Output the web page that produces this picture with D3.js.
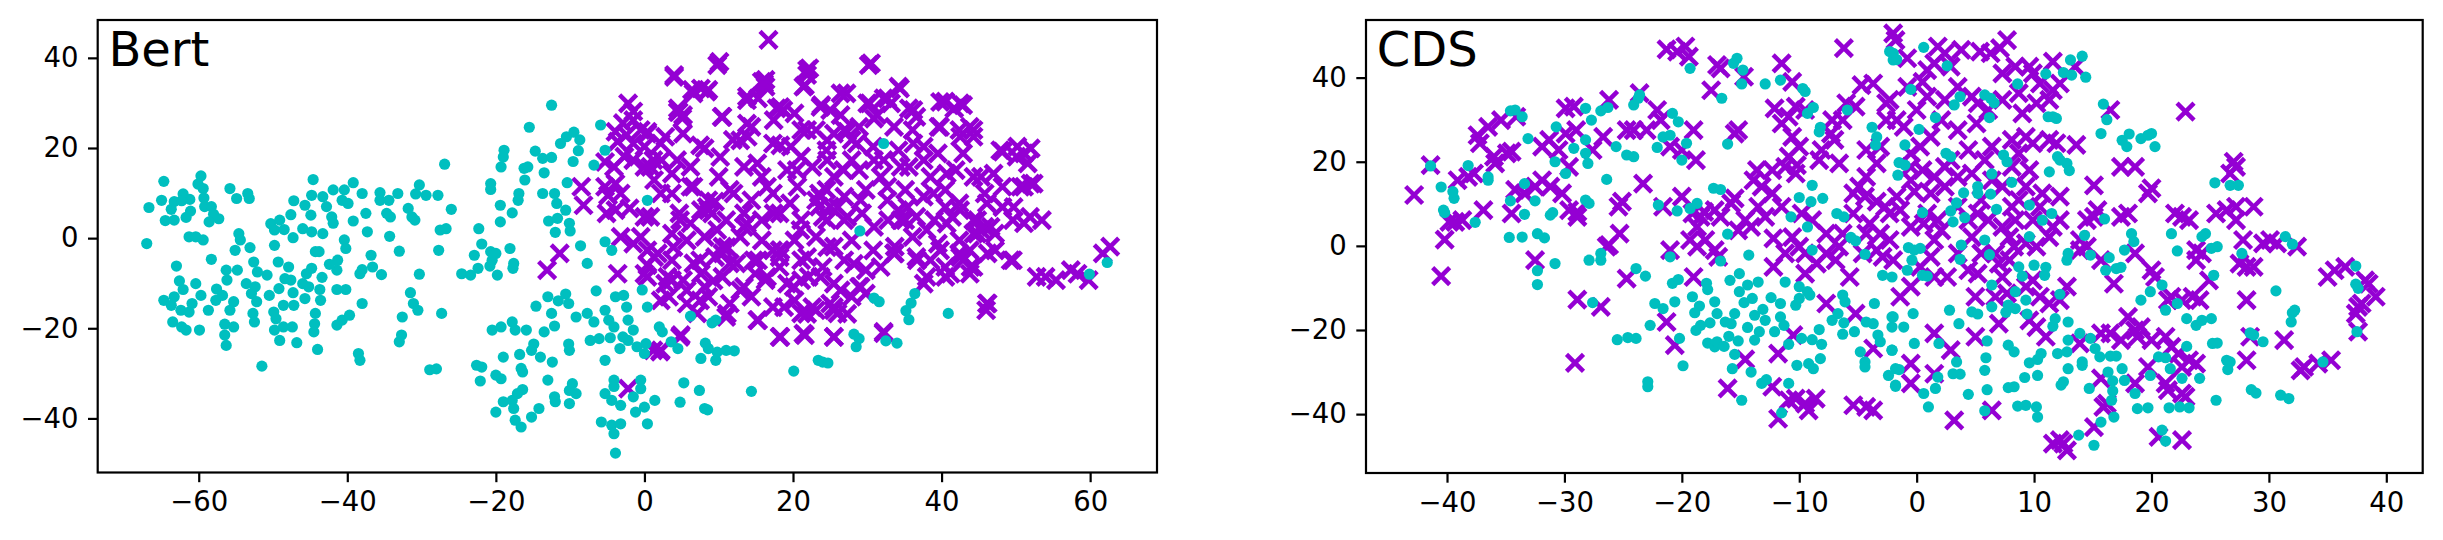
<!DOCTYPE html>
<html>
<head>
<meta charset="utf-8">
<script src="https://cdn.jsdelivr.net/npm/d3@7"></script>
<style>
  body { margin: 0; background: #fff; }
  svg text { font-family: "DejaVu Sans", sans-serif; fill: #000; }
</style>
</head>
<body>
<div id="chart"></div>
<script>
// panel titles and axis ticks
const panelNames = ['Bert', 'CDS']
const bertXTicks = [-60, -40, -20, 0, 20, 40, 60]
const bertYTicks = [-40, -20, 0, 20, 40]
const cdsXTicks = [-40, -30, -20, -10, 0, 10, 20, 30, 40]
const cdsYTicks = [-40, -20, 0, 20, 40]
const bertXLim = [-73.6, 69.0]
const bertYLim = [-52.0, 48.4]
const cdsXLim = [-46.9, 43.1]
const cdsYLim = [-54.0, 53.7]

// Bert embedding, class 1 (cyan dots)
const bertCyan = [
  [-66.7,6.8],[-67.0,-1.2],[-64.7,12.6],[-65.0,8.4],[-64.5,3.9],[-63.3,4.0],[-63.7,6.4],[-63.3,8.1],[-62.1,9.8],[-61.2,8.6],
  [-62.3,8.3],[-61.1,6.0],[-61.7,4.6],[-59.7,13.8],[-60.1,12.0],[-59.4,11.0],[-59.2,7.0],[-59.3,8.9],[-58.3,7.0],[-58.0,5.3],
  [-57.3,4.3],[-58.6,3.6],[-61.3,0.3],[-60.4,0.3],[-59.4,-0.4],[-58.3,-4.7],[-63.0,-6.2],[-62.6,-9.5],[-62.1,-11.4],[-60.4,-10.1],
  [-64.7,-13.8],[-63.7,-14.9],[-63.3,-13.0],[-62.4,-16.0],[-61.3,-16.4],[-60.9,-14.5],[-63.5,-18.6],[-62.3,-19.7],[-61.7,-20.4],[-59.9,-20.4],
  [-59.7,-12.7],[-58.7,-16.0],[-57.7,-13.8],[-57.6,-11.3],[-56.8,-12.7],[-56.2,-9.3],[-56.3,-7.1],[-55.3,-14.1],[-55.8,-16.0],[-54.8,-7.1],
  [-54.6,1.0],[-54.4,-0.4],[-55.1,-2.7],[-53.1,-2.1],[-55.8,11.0],[-54.9,8.8],[-53.4,9.9],[-53.2,8.8],[-56.5,-19.1],[-55.3,-19.7],
  [-56.5,-21.5],[-56.3,-23.8],
  [-53.6,-10.1],[-52.9,-12.3],[-52.4,-10.8],[-52.2,-14.1],[-52.7,-16.7],[-52.5,-18.6],[-52.6,-5.3],[-52.1,-7.5],[-50.8,-8.2],[-50.5,-12.7],
  [-49.9,-16.4],[-49.6,-17.9],[-49.8,-20.4],[-49.1,-22.7],[-48.6,-19.7],[-47.4,-19.7],[-46.8,-23.2],[-48.6,-14.9],[-47.2,-14.9],[-47.3,-12.1],
  [-49.2,-11.2],[-48.4,-9.0],[-47.6,-9.3],[-47.9,-6.4],[-49.3,-5.3],[-49.8,-1.6],[-50.3,3.2],[-49.1,4.0],[-49.8,1.8],[-48.5,1.9],
  [-47.3,0.1],[-47.6,5.2],[-47.2,8.3],[-45.7,7.3],[-46.0,2.1],[-44.8,1.4],[-44.9,5.1],[-44.6,13.0],[-44.8,9.5],[-43.3,1.0],
  [-44.3,-3.0],[-43.8,-3.0],[-45.5,-7.9],[-44.8,-6.7],[-46.0,-10.1],[-45.2,-10.8],[-45.7,-13.4],[-43.4,-8.7],[-43.7,-11.4],[-43.6,-13.8],
  [-44.3,-16.7],[-44.4,-19.0],[-44.5,-20.8],[-44.0,-24.7],[-51.5,-28.4],[-41.4,-19.3],[-40.7,-18.2],[-39.7,-17.1],[-38.0,-14.5],[-40.2,-11.4],
  [-41.4,-11.4],[-41.4,-7.1],[-42.4,-5.8],[-41.3,-4.9],[-40.4,-0.4],[-40.2,-2.3],[-42.1,4.7],[-41.9,3.3],[-42.8,7.0],[-43.3,9.2],
  [-41.9,10.7],[-40.4,10.7],[-40.7,8.4],[-39.9,7.7],[-39.2,12.3],[-38.0,9.9],[-39.2,3.8],[-37.5,5.5],[-37.3,1.4],[-35.6,10.1],
  [-35.6,8.4],[-34.4,8.4],[-34.2,4.7],[-34.7,5.5],[-34.3,0.4],[-33.0,-2.9],[-36.8,-3.8],[-36.6,-6.4],[-38.3,-7.9],[-35.4,-8.1],
  [-38.0,-7.0],[-33.2,9.9],[-31.8,6.6],[-31.3,4.7],[-30.9,4.0],[-30.3,11.8],[-30.8,9.8],[-29.4,9.5],[-27.8,9.5],[-26.0,6.4],
  [-26.9,16.4],[-27.5,1.8],[-26.7,2.1],[-27.7,-2.7],[-30.3,-8.0],[-31.5,-12.1],[-31.1,-14.5],[-30.5,-16.0],[-32.6,-17.5],[-32.7,-21.5],
  [-33.0,-23.0],[-27.3,-16.7],[-38.5,-25.6],[-38.3,-27.1],[-28.9,-29.2],[-28.0,-29.0],
  [-24.6,-7.9],[-23.4,-8.2],[-22.9,-3.8],[-22.4,-6.7],[-22.3,2.1],[-21.9,-1.3],[-20.7,-3.0],[-20.5,-4.9],[-20.0,-3.4],[-20.8,-6.2],
  [-19.8,-8.2],[-18.1,-2.3],[-17.6,-5.6],[-17.7,-6.7],[-20.7,12.1],[-20.7,10.8],[-19.4,7.3],[-19.4,3.6],[-17.8,5.6],[-19.0,18.0],
  [-19.3,15.8],[-18.9,19.5],[-16.9,9.9],[-17.0,8.4],[-16.1,12.9],[-16.2,15.5],[-15.7,15.8],[-15.5,24.6],[-14.7,19.3],[-13.7,17.7],
  [-13.5,14.5],[-12.5,17.9],[-12.5,29.5],[-13.7,9.9],[-12.1,9.9],[-11.8,7.7],[-12.9,3.8],[-11.7,4.4],[-12.0,1.3],[-10.6,6.2],
  [-10.1,3.3],[-10.0,1.6],[-10.4,12.3],[-11.3,21.0],[-10.5,22.5],[-9.5,23.5],[-8.7,21.8],[-8.9,19.4],[-9.6,17.0],[-5.9,25.1],
  [-5.3,19.5],[-6.8,16.2],[-5.3,-0.8],[-4.4,-2.7],[-8.6,-1.7],[-7.7,-5.6],[-6.5,-11.7],[-10.6,-12.4],[-10.2,-14.5],[-11.6,-13.9],
  [-13.0,-13.0],[-14.6,-15.1],[-12.5,-16.7],[-12.1,-19.5],[-13.5,-20.8],[-9.2,-17.5],[-7.7,-16.7],[-6.8,-18.6],[-5.3,-16.0],[-4.8,-18.2],
  [-4.1,-19.7],[-3.9,-13.0],[-2.8,-12.7],[-2.4,-15.3],[-2.2,-18.2],[-2.9,-21.9],[-1.5,-20.4],[-0.3,-11.5],[0.4,-15.3],[0.4,8.4],
  [-20.5,-20.4],[-19.3,-19.7],[-17.8,-18.6],[-17.4,-20.4],[-15.9,-20.4],[-14.9,-23.5],[-15.2,-24.9],[-14.0,-26.4],[-12.4,-27.5],[-10.2,-23.5],
  [-10.1,-24.9],[-7.3,-22.7],[-6.1,-22.3],[-4.6,-22.1],[-5.3,-27.1],[-3.3,-24.5],[-2.2,-22.7],[-1.0,-24.1],[0.0,-25.6],[0.2,-23.4],
  [-22.6,-28.2],[-21.9,-28.6],[-22.1,-31.7],[-20.0,-30.4],[-19.3,-31.2],[-19.0,-26.4],[-16.8,-25.8],[-16.6,-28.9],[-16.4,-29.7],[-16.4,-33.6],
  [-17.1,-34.5],[-13.0,-31.5],[-12.1,-35.2],[-12.0,-36.3],[-10.1,-33.8],[-9.2,-34.5],[-9.7,-32.3],[-10.1,-36.7],[-4.1,-31.5],[-4.1,-32.9],
  [-5.3,-34.5],[-4.4,-36.0],[-3.2,-37.1],[-1.5,-35.2],[-0.5,-31.5],[-0.5,-33.4],[0.0,-37.5],[-1.2,-38.6],[0.4,-41.2],[1.4,-36.0],
  [-19.0,-36.3],[-17.6,-37.8],[-17.8,-36.0],[-20.0,-38.6],[-15.2,-39.7],[-14.2,-37.8],[-17.4,-40.4],[-16.6,-41.9],[-5.8,-40.8],[-4.4,-41.5],
  [-3.2,-41.2],[-4.1,-43.4],[-3.9,-47.7],
  [32.2,21.0],[29.0,1.6],[6.2,-17.3],[9.1,-18.8],[9.6,-18.2],[3.6,-23.0],[4.5,-24.5],[7.6,-26.7],[8.2,-23.3],[8.6,-24.5],
  [9.6,-27.1],[9.8,-25.3],[11.0,-24.9],[12.1,-25.0],[5.3,-32.1],[7.4,-33.8],[4.8,-36.4],[8.1,-37.8],[8.5,-38.1],[14.4,-34.0],
  [20.1,-29.5],[23.4,-27.1],[24.0,-27.5],[24.7,-27.7],[28.2,-21.3],[28.9,-22.3],[28.5,-24.1],[30.9,-13.3],[31.6,-14.1],[32.5,-22.8],
  [34.0,-23.3],[36.4,-12.3],[35.9,-14.4],[35.2,-16.1],[35.6,-18.1],[40.9,-16.7],[59.9,-8.0],[62.3,-5.4],[2.0,-19.7],[2.4,-20.8]
]

// Bert embedding, class 2 (purple crosses)
const bertPurple = [
  [-2.2,29.9],[-1.5,28.1],[-2.9,25.5],[-1.5,26.2],[-3.9,23.6],[-2.4,22.9],[-0.5,24.0],[0.4,23.2],[-3.6,21.4],[-1.5,21.0],
  [0.0,20.3],[-5.3,16.9],[-4.1,15.8],[-2.7,18.1],[-1.5,17.3],[0.0,15.8],[1.2,17.3],[-8.5,11.4],[-8.2,7.3],[-5.3,11.4],
  [-3.9,12.1],[-3.2,9.9],[-4.9,9.5],[-3.9,6.2],[-5.1,5.5],[-2.0,6.6],[0.0,4.7],[-3.2,0.3],[-0.5,0.3],[-1.5,-1.2],
  [0.4,-2.7],[-11.4,-3.4],[-13.1,-7.1],[-3.6,-7.9],[0.0,-7.9],[0.4,-6.0],[-2.2,-33.4],[1.2,-24.9],
  [16.7,44.0],[10.1,39.1],[30.5,38.8],[4.0,36.2],[22.2,37.7],[21.9,36.2],[15.8,34.7],[16.3,33.6],[6.4,32.9],[8.6,32.9],
  [7.6,33.2],[21.6,33.9],[27.2,32.1],[34.4,33.2],[13.8,30.6],[15.3,31.0],[17.8,28.8],[18.7,28.4],[4.5,28.0],[5.2,27.3],
  [10.5,26.9],[23.8,29.5],[25.0,28.4],[30.3,29.9],[32.2,31.0],[33.2,29.9],[31.3,27.3],[35.6,28.8],[36.6,26.9],[40.5,30.3],
  [42.9,29.5],[41.7,28.8],[14.4,24.7],[13.9,22.5],[23.1,24.0],[25.5,23.2],[26.9,24.0],[28.9,24.7],[36.1,24.0],[39.6,24.7],
  [42.4,24.0],[43.8,24.7],[44.3,22.5],[2.8,22.5],[5.2,23.2],[8.1,19.9],[11.9,21.8],[17.3,21.0],[19.7,20.3],[21.1,18.1],
  [24.5,19.5],[27.9,21.8],[30.8,20.3],[34.2,19.5],[37.6,20.3],[39.5,18.8],[42.9,18.8],[48.2,19.2],[50.1,18.1],[52.0,19.9],
  [51.6,16.6],[2.3,17.3],[3.7,14.3],[6.2,15.8],[10.0,13.6],[13.4,15.8],[15.8,13.6],[19.2,15.1],[22.6,15.8],[25.5,13.6],
  [28.9,15.1],[31.8,13.6],[35.6,15.8],[38.5,13.6],[41.9,15.1],[45.3,13.6],[48.2,11.4],[51.1,11.4],[52.0,12.1],[3.7,9.9],
  [6.6,11.4],[8.6,8.4],[11.5,10.7],[14.4,8.4],[17.3,9.9],[20.6,11.4],[23.1,8.4],[24.5,10.7],[26.9,9.2],[29.8,10.7],
  [32.7,8.4],[35.1,10.7],[37.6,9.2],[40.5,10.7],[42.4,7.7],[45.8,9.9],[48.2,6.9],[49.6,4.0],[53.5,4.0],[51.1,3.3],
  [4.7,5.5],[7.6,6.2],[9.1,5.5],[11.0,4.0],[13.4,5.5],[15.8,4.0],[18.2,5.5],[21.1,4.0],[23.5,7.0],[24.0,4.7],
  [26.9,4.0],[29.3,5.5],[32.8,4.0],[34.2,6.2],[36.6,4.7],[39.0,4.0],[41.4,4.7],[44.3,4.0],[45.8,2.5],[47.2,1.0],
  [3.7,1.0],[5.7,-0.5],[8.1,0.3],[10.5,-1.9],[12.9,0.3],[15.8,-0.5],[18.2,-2.7],[20.2,-0.5],[23.1,0.3],[25.5,-1.9],
  [27.9,-0.5],[30.8,-2.7],[33.7,-1.9],[36.1,0.3],[39.5,-1.2],[42.4,-0.5],[44.8,1.0],[47.2,-2.7],[49.6,-4.9],[54.0,-8.6],
  [55.4,-9.3],[57.4,-7.1],[58.3,-7.9],[59.8,-9.3],[62.7,-1.9],[61.7,-3.4],[1.8,-3.4],[3.7,-4.9],[6.6,-5.6],[9.5,-4.2],
  [12.4,-5.6],[15.3,-4.9],[18.2,-6.4],[21.1,-4.9],[24.0,-6.4],[26.9,-4.9],[29.8,-7.1],[36.6,-4.2],[40.5,-6.4],[42.9,-4.9],
  [44.3,-6.4],[0.4,-8.6],[2.8,-10.1],[5.2,-9.3],[8.1,-10.8],[10.5,-8.6],[13.4,-10.8],[16.3,-9.3],[19.2,-10.1],[22.1,-8.6],
  [25.5,-10.1],[28.9,-10.8],[33.7,-3.4],[37.6,-10.1],[40.5,-8.6],[43.8,-7.9],[46.2,-3.4],[3.3,-13.0],[5.7,-14.5],[8.6,-13.0],
  [11.5,-14.5],[14.4,-13.0],[17.3,-15.3],[20.2,-13.8],[22.6,-15.3],[25.5,-16.0],[27.9,-13.0],[29.8,-12.3],[46.2,-14.5],[46.0,-16.0],
  [11.0,-17.5],[15.3,-18.2],[21.1,-16.7],[23.1,-16.0],[18.2,-21.9],[21.6,-21.5],[25.5,-21.9],[32.2,-21.1],[4.9,-21.5],[2.1,-25.2],
  [4.5,28.8],[5.1,26.6],[8.6,6.2],[9.5,8.1],[23.5,9.9],[25.0,7.0],[44.8,4.0],[45.3,1.8],[42.4,-3.4],[43.8,-2.7],
  [17.3,-2.7],[18.2,-4.2],[10.5,-3.4],[11.5,-5.6],[16.3,35.1],[25.0,-14.5],[26.0,-16.7],[3.7,-9.3],[1.3,12.9],[21.1,24.0],
  [20.2,27.7],[27.9,17.3],[32.2,17.3],[35.1,4.0],[40.5,6.9],[38.5,-4.9],[31.8,-6.4],[6.2,3.3],[13.4,2.5],[21.1,-9.3],
  [14.9,-7.9],[7.6,-7.9],[7.1,-16.7],
  [4.0,35.8],[9.8,38.4],[16.1,34.3],[21.9,37.3],[30.2,38.4],[21.4,33.6],[26.4,32.1],[34.2,33.6],[6.6,32.1],[8.4,32.5],
  [13.8,31.4],[4.6,28.0],[10.4,26.9],[18.3,29.1],[23.7,29.1],[30.0,29.9],[32.7,31.0],[39.8,30.2],[42.5,29.9],[36.2,28.4],
  [26.4,27.3],[17.4,26.2],[13.8,25.4],[30.9,26.5],[0.4,23.6],[2.2,21.0],[7.5,20.6],[12.9,21.7],[18.3,20.6],[21.9,24.0],
  [24.6,21.7],[27.3,23.6],[28.6,21.0],[33.6,24.7],[36.2,21.0],[39.8,24.7],[42.5,22.5],[44.3,24.0],[47.9,19.5],[51.1,18.8],
  [50.2,20.3],[0.8,15.8],[4.4,17.3],[10.2,18.0],[15.2,16.6],[20.5,15.1],[24.6,17.3],[26.8,15.1],[30.9,17.3],[34.5,15.8],
  [37.6,17.3],[40.7,14.3],[44.3,13.6],[47.0,14.3],[50.6,11.4],[52.4,12.1],[2.2,9.9],[6.2,11.4],[8.4,6.9],[12.0,9.9],
  [16.5,11.4],[19.6,7.7],[23.7,9.2],[26.0,6.9],[29.1,8.4],[32.7,11.4],[35.4,6.9],[38.9,9.9],[42.5,6.2],[46.1,7.7],
  [49.7,6.9],[0.8,4.7],[4.8,4.0],[9.8,1.8],[13.8,3.2],[17.4,5.5],[21.0,1.8],[24.6,4.0],[27.3,4.7],[30.9,2.5],
  [34.5,4.0],[38.0,1.8],[40.7,3.2],[44.3,1.0],[46.6,2.5],[51.9,4.7],[1.3,-4.2],[3.9,-2.0],[7.5,-4.9],[11.1,-2.0],
  [14.7,-4.9],[18.3,-2.7],[21.9,-4.2],[24.6,-2.0],[28.2,-5.7],[33.6,-3.4],[36.7,-4.9],[39.8,-2.7],[42.5,-4.2],[43.9,-6.4],
  [49.3,-4.9],[52.8,-8.6],[3.1,-8.6],[5.7,-11.6],[9.3,-9.4],[12.9,-11.6],[16.5,-8.6],[20.1,-10.8],[23.7,-8.6],[26.4,-11.6],
  [29.1,-10.8],[38.0,-8.6],[41.2,-7.9],[2.2,-13.8],[7.5,-13.8],[11.1,-16.8],[15.2,-18.2],[18.8,-15.3],[21.9,-16.8],[25.5,-15.3],
  [27.3,-16.8],[46.1,-14.5],[4.8,-21.9],[2.2,-24.9],[18.3,-21.9],[21.4,-21.2],[25.5,-21.9],[32.2,-20.8]
]

// CDS embedding, class 1 (cyan dots)
const cdsCyan = [
  [-41.4,19.0],[-40.5,14.0],[-40.3,8.5],[-39.4,11.3],[-39.5,12.9],[-40.2,7.9],[-38.2,19.1],[-36.5,15.6],[-36.5,16.4],[-37.6,5.6],
  [-34.6,32.1],[-34.2,32.3],[-33.6,30.7],[-33.1,25.5],[-33.4,14.8],[-34.6,10.7],[-33.4,7.5],[-32.5,10.7],[-31.2,7.3],[-31.0,7.9],
  [-30.7,28.3],[-30.8,20.0],[-29.9,17.2],[-29.2,23.2],[-28.2,25.2],[-28.2,22.0],[-28.0,19.6],[-28.2,32.7],[-27.7,29.9],[-26.9,32.1],
  [-26.3,32.9],[-24.1,33.5],[-23.7,35.1],[-23.6,35.9],[-26.4,15.8],[-25.6,23.6],[-24.7,21.6],[-24.1,21.2],[-28.2,10.9],[-27.9,10.1],
  [-34.7,2.0],[-33.6,2.1],[-32.3,2.9],[-31.7,1.9],[-32.3,-5.9],[-32.3,-9.2],[-30.8,-4.2],[-27.9,-3.4],[-26.9,-1.8],[-26.9,-3.4],
  [-23.9,-5.4],[-23.1,-7.2],[-27.6,-13.5],[-22.0,9.7],[-22.1,23.4],[-21.6,25.9],[-21.0,26.3],[-20.8,31.5],[-20.3,29.5],[-19.6,24.4],
  [-20.0,20.4],[-19.3,8.9],[-18.7,10.1],[-20.4,8.3],[-21.0,-2.6],[-19.3,42.2],[-16.6,35.1],[-16.1,24.2],[-15.6,43.4],[-15.3,44.6],
  [-14.8,41.8],[-14.9,38.5],[-12.9,38.5],[-11.6,39.4],[-9.7,37.4],[-9.5,36.7],[-9.3,31.5],[-8.8,32.9],[-8.3,27.1],[-8.2,28.2],
  [-5.9,32.3],[-3.8,28.2],[-3.5,24.0],[-3.4,25.9],[-2.3,46.2],[-2.0,44.2],[-8.9,14.4],[-10.0,11.5],[-9.0,10.5],[-8.0,11.3],
  [-10.7,6.9],[-9.3,4.5],[-8.9,-1.0],[-6.8,7.7],[-6.2,6.9],[-5.6,2.0],[-5.2,1.2],[-4.4,-2.0],[-16.1,2.8],[-17.3,13.7],
  [-16.7,13.4],[-16.7,-3.6],[-14.3,-2.2],[-11.2,-8.6],[-10.0,-9.7],[-9.3,-10.9],[-9.1,-11.7],[-12.4,-12.3],[-11.6,-13.7],[-10.3,-14.1],
  [-10.0,-12.5],[-6.3,-11.7],[-6.1,-13.3],[-3.6,-13.7],[-2.9,-7.0],[-2.1,-7.4],[-20.8,-8.9],[-20.3,-8.0],[-17.9,-8.9],[-17.8,-10.4],
  [-15.9,-8.2],[-15.1,-6.6],[-14.4,-9.3],[-13.5,-8.6],[-15.1,-10.9],[-14.7,-13.5],[-14.0,-12.5],[-19.1,-12.1],[-18.5,-14.3],[-18.9,-15.9],
  [-17.2,-13.3],[-17.0,-16.1],[-16.3,-18.1],[-15.8,-18.5],[-15.5,-16.1],[-13.8,-16.5],[-13.1,-15.1],[-12.9,-17.7],[-11.6,-16.9],[-11.3,-18.9],
  [-12.1,-20.4],[-13.4,-20.4],[-14.4,-19.4],[-13.8,-22.4],[-16.0,-21.5],[-15.2,-22.6],[-17.6,-18.3],[-18.4,-18.9],[-18.8,-20.1],[-22.3,-13.7],
  [-21.6,-14.9],[-20.6,-13.3],[-22.7,-18.9],[-20.2,-22.0],[-25.5,-22.3],[-24.6,-21.8],[-23.9,-22.0],[-17.8,-23.1],[-17.2,-24.0],[-17.0,-22.8],
  [-16.4,-23.9],[-15.5,-25.8],[-10.9,-23.4],[-9.8,-22.0],[-8.9,-22.3],[-8.1,-23.4],[-8.3,-19.9],[-7.2,-17.7],[-6.7,-16.1],[-6.2,-18.3],
  [-6.3,-21.0],[-5.3,-20.4],[-4.3,-18.1],[-3.7,-18.5],[-3.3,-21.2],[-3.1,-22.8],[-2.1,-19.3],[-2.0,-16.9],[-4.8,-25.2],[-4.4,-27.6],
  [-4.4,-28.8],[-2.1,-24.8],[-2.4,-30.8],[-1.8,-33.4],[-8.2,-26.8],[-9.2,-28.0],[-8.8,-29.2],[-10.2,-28.4],[-10.9,-32.7],[-13.2,-32.7],
  [-12.8,-31.8],[-14.1,-30.0],[-14.9,-36.7],[-15.7,-29.2],[-19.9,-28.5],[-22.9,-32.3],[-22.9,-33.5],[-11.5,-39.7],[-1.8,-29.2],
  [-2.0,45.8],[-1.7,44.3],[0.6,47.2],[2.6,42.8],[-0.5,37.2],[1.6,30.5],[0.2,27.7],[-1.0,24.0],[-1.5,19.8],[-1.0,19.2],
  [-1.6,16.8],[2.5,22.0],[2.9,21.2],[3.7,35.5],[3.2,33.5],[5.8,35.9],[6.3,35.1],[6.6,34.0],[6.2,30.5],[8.6,38.5],
  [11.0,40.9],[12.5,41.2],[13.2,40.6],[13.1,44.2],[14.1,45.1],[14.4,40.1],[11.2,30.7],[11.6,30.7],[11.9,30.3],[12.0,21.2],
  [12.2,20.4],[12.8,19.6],[13.0,17.9],[11.3,17.6],[7.4,21.6],[7.7,20.0],[6.4,17.1],[8.1,15.1],[9.6,9.7],[11.5,7.7],
  [10.7,6.1],[6.8,8.7],[5.2,14.1],[5.2,12.5],[4.0,12.6],[3.4,10.2],[2.9,8.3],[0.5,7.9],[4.1,6.7],[3.1,5.7],
  [6.3,12.3],[9.6,2.2],[0.3,-0.6],[-0.2,-1.0],[-0.7,-0.4],[-0.4,-3.4],[-0.8,-5.8],[0.5,-7.0],[0.9,-7.2],[3.8,0.2],
  [3.7,-3.2],[5.8,1.4],[6.2,-2.1],[8.7,-5.0],[9.0,-7.2],[10.0,-4.6],[11.0,-5.1],[10.9,-7.0],[14.3,2.5],[16.0,6.4],
  [15.9,33.7],[16.2,30.0],[15.7,26.7],[17.5,25.1],[17.9,23.6],[19.1,25.5],[20.0,26.7],[20.3,23.6],[18.3,2.9],[18.5,1.0],
  [17.7,-1.0],[16.4,-2.8],[16.1,-5.8],[17.0,-5.4],[17.4,-5.1],[12.9,-1.8],[12.8,-3.4],[14.8,-2.2],[6.4,-9.3],[8.4,-10.9],
  [9.3,-12.9],[6.4,-14.5],[8.4,-14.9],[7.8,-14.1],[7.6,-15.8],[9.4,-16.2],[12.2,-11.5],[11.8,-17.3],[12.9,-18.1],[11.6,-19.1],
  [3.6,-18.5],[2.8,-15.3],[4.7,-15.7],[5.2,-16.2],[-0.3,-16.1],[-1.1,-19.3],[-2.1,-16.9],[-0.2,-23.2],[-2.1,-24.8],[1.9,-23.2],
  [6.0,-22.6],[7.8,-23.6],[8.3,-25.2],[5.9,-26.6],[5.8,-29.6],[3.4,-27.6],[3.1,-30.4],[3.7,-30.5],[4.4,-35.3],[6.0,-34.2],
  [7.8,-33.7],[8.3,-33.5],[9.2,-31.3],[9.6,-27.8],[10.3,-27.0],[10.6,-25.6],[10.3,-30.8],[12.9,-29.2],[12.5,-32.3],[12.3,-33.1],
  [12.0,-25.6],[12.8,-25.2],[12.9,-22.4],[13.9,-20.8],[14.8,-22.0],[15.2,-24.4],[15.6,-26.4],[16.5,-26.2],[17.0,-26.2],[17.5,-29.2],
  [16.3,-30.0],[16.7,-32.1],[16.7,-34.5],[17.7,-32.0],[18.6,-35.1],[16.6,-36.7],[16.8,-40.7],[15.7,-41.9],[15.1,-47.4],[13.8,-45.0],
  [14.7,-33.9],[14.1,-27.6],[14.1,-28.4],[9.3,-37.9],[8.6,-38.1],[10.2,-38.3],[10.3,-40.7],[5.8,-39.2],[1.0,-38.3],[0.6,-35.1],
  [1.6,-33.9],[1.8,-31.2],[-1.5,-29.4],[-1.8,-33.1],[18.8,-38.7],[19.7,-38.5],[21.5,-38.5],[22.4,-38.3],[23.2,-38.5],[20.9,-43.8],
  [21.2,-46.4],[19.1,-12.9],[19.9,-10.9],[20.9,-9.3],[21.2,-15.3],[22.2,-13.7],[23.0,-17.3],[23.8,-18.9],[24.3,-17.7],[25.1,-17.3],
  [19.9,-30.8],[20.6,-26.4],[21.2,-26.6],[21.6,-29.2],[22.6,-31.5],[24.1,-31.5],[23.0,-23.9],[25.3,-7.0],[25.2,-23.2],[25.6,-23.1],
  [26.4,-27.2],[26.7,-27.6],[26.5,-29.4],[28.7,-21.2],[29.5,-22.8],[30.6,-10.7],[28.5,-34.2],[28.9,-35.0],[31.0,-35.5],[31.7,-36.3],
  [25.5,-36.7],[32.0,-15.9],[32.2,-15.3],[31.9,-18.1],[34.6,-27.6],[37.4,-4.8],[37.4,-9.1],[37.6,-10.1],[37.5,-20.4],[31.4,2.2],
  [32.0,0.4],[27.7,-1.8],[25.4,15.0],[26.7,14.4],[27.4,14.4],[24.6,2.9],[24.3,2.2],[25.1,-0.6],[25.6,-0.2],[22.2,-1.2],
  [21.7,2.9],[18.1,26.6],[19.7,26.3],[28.4,-20.7]
]

// CDS embedding, class 2 (purple crosses)
const cdsPurple = [
  [-42.8,12.1],[-41.4,19.2],[-40.2,1.5],[-40.5,-7.2],[-39.3,5.7],[-38.7,6.1],[-39.8,5.7],[-39.1,15.6],[-38.2,16.4],[-37.7,17.2],
  [-36.9,8.5],[-37.4,26.3],[-37.2,24.4],[-36.5,28.3],[-35.4,29.9],[-34.9,22.0],[-36.0,21.2],[-35.9,19.6],[-34.5,22.4],[-34.1,30.7],
  [-34.5,7.7],[-34.2,13.3],[-33.4,12.5],[-32.5,14.1],[-31.9,15.6],[-31.2,14.1],[-31.9,23.6],[-31.3,25.2],[-30.5,22.8],[-29.9,26.7],
  [-29.6,18.8],[-29.2,33.1],[-29.0,27.5],[-30.2,12.5],[-29.6,8.5],[-28.9,8.1],[-28.9,6.9],[-27.6,22.8],[-26.7,25.9],[-26.2,34.7],
  [-24.7,27.5],[-24.1,27.5],[-23.6,36.3],[-23.0,27.5],[-22.1,32.3],[-21.8,29.9],[-21.0,23.6],[-20.0,22.8],[-19.0,27.5],[-18.8,20.4],
  [-23.3,14.8],[-25.1,10.5],[-25.4,9.3],[-26.2,0.2],[-25.3,2.9],[-26.4,-0.2],[-32.5,-3.4],[-24.7,-7.8],[-28.9,-12.8],[-26.9,-14.5],
  [-29.1,-27.8],[-21.6,9.3],[-20.0,11.7],[-21.0,-1.0],[-19.1,7.7],[-18.4,6.9],[-18.1,8.1],[-19.3,1.4],[-18.7,-0.2],[-18.0,1.4],
  [-17.2,-1.0],[-19.0,-7.4],[-21.3,-18.1],[-20.6,-23.6],[-14.6,-27.0],[-16.1,-33.9],[-17.5,37.0],[-16.7,42.2],[-14.7,40.2],[-15.2,27.5],
  [-11.5,43.4],[-10.6,39.0],[-6.2,47.0],[-15.8,10.1],[-15.5,11.3],[-14.6,6.1],[-13.9,15.6],[-13.6,18.0],[-13.2,14.1],[-13.5,9.3],
  [-14.1,4.5],[-12.3,12.5],[-12.2,1.8],[-12.2,-5.0],[-12.1,32.7],[-11.5,29.1],[-10.9,30.7],[-10.3,33.1],[-9.5,32.3],[-10.0,23.6],
  [-10.9,21.2],[-11.2,18.8],[-10.2,19.2],[-10.3,17.2],[-8.3,20.4],[-7.0,25.2],[-7.3,26.7],[-6.6,19.6],[-6.0,33.9],[-6.3,29.9],
  [-4.7,38.2],[-3.7,38.6],[-2.6,33.9],[-2.6,29.9],[-3.1,23.6],[-4.3,22.8],[-5.4,12.5],[-4.9,14.1],[-4.4,11.7],[-3.4,10.5],
  [-2.7,9.3],[-4.0,5.3],[-3.1,2.9],[-3.4,-1.0],[-2.9,-2.6],[-4.3,2.9],[-6.3,2.9],[-6.6,-0.2],[-6.9,-3.4],[-7.7,-1.8],
  [-8.5,-4.2],[-9.5,-1.8],[-10.0,-0.2],[-9.8,7.7],[-10.6,2.1],[-5.7,-7.4],[-11.2,-1.8],[-7.7,-13.7],[-5.2,-16.1],[-10.5,-21.2],
  [-3.7,-24.4],[-11.8,-25.6],[-12.3,-33.5],[-11.8,-41.1],[-10.9,-36.7],[-10.3,-36.3],[-9.5,-37.5],[-8.6,-36.3],[-9.2,-39.1],[-5.4,-37.9],
  [-4.3,-38.3],[-3.7,-39.1],[-2.0,50.5],[-17.2,8.5],[-15.2,3.7],[-16.9,-2.6],[-21.3,46.7],[-20.4,46.2],[-19.7,47.4],[-19.4,45.0],
  [-17.0,43.0],[-15.5,26.7],[-29.9,32.7],
  [-12.9,6.9],[-11.5,9.3],[-8.9,6.1],[-7.7,2.9],[-5.4,7.7],[-4.6,-1.8],[-9.5,-6.6],[-12.3,18.0],[-10.6,25.9],[-7.2,29.9],
  [-5.2,33.1],[-3.4,19.6],[-4.3,16.4],[-8.1,22.8],[-18.7,4.5],[-16.7,6.9],
  [-1.8,48.9],[-0.8,44.6],[7.7,48.9],[7.1,47.0],[6.3,45.8],[5.4,46.2],[3.8,46.6],[2.4,45.8],[1.8,47.4],[1.5,43.4],
  [2.9,42.6],[0.9,41.8],[0.5,39.0],[0.9,35.5],[3.5,37.8],[4.7,35.5],[7.3,41.0],[8.4,42.6],[9.6,42.6],[9.9,41.0],
  [10.5,38.6],[11.6,43.8],[11.6,37.0],[12.2,38.6],[13.5,42.6],[11.3,34.7],[10.2,33.9],[9.0,31.5],[7.3,34.7],[6.1,32.3],
  [5.1,29.1],[3.5,27.5],[2.1,29.9],[0.0,32.3],[-1.7,29.9],[-2.3,34.7],[-1.1,28.3],[1.2,25.9],[-0.5,22.0],[0.5,18.0],
  [2.4,18.8],[4.4,22.8],[5.8,20.4],[6.4,23.6],[8.1,25.2],[9.3,25.9],[9.9,24.4],[8.7,22.0],[9.6,18.0],[9.3,14.1],
  [8.1,18.8],[12.2,11.7],[11.3,25.2],[11.9,24.4],[13.6,24.0],[16.5,32.3],[15.1,14.4],[17.4,18.8],[18.6,18.8],[20.0,13.7],
  [19.7,12.5],[22.9,31.9],[27.0,20.0],[26.7,17.2],[27.2,18.8],[6.4,15.6],[4.7,17.2],[2.4,14.1],[1.2,12.5],[-0.2,12.9],
  [-1.7,11.7],[-2.3,7.7],[-1.4,8.5],[0.9,7.7],[1.8,6.1],[0.6,5.3],[2.1,3.7],[4.4,6.1],[4.7,2.1],[6.1,6.1],
  [7.3,4.5],[7.9,2.1],[8.3,-0.2],[9.3,0.6],[10.2,-0.2],[11.3,2.1],[11.6,4.5],[12.2,6.1],[7.9,-3.4],[6.7,-1.8],
  [7.0,-4.2],[5.5,-1.8],[4.4,-5.8],[2.6,-7.4],[1.5,-7.4],[0.3,-5.0],[1.2,-2.6],[-2.0,-3.4],[-2.3,1.4],[-0.5,-9.7],
  [-1.4,-12.1],[5.0,-12.1],[6.7,-12.1],[7.7,-11.3],[9.3,-9.7],[10.5,-12.1],[11.3,-13.7],[12.2,-12.9],[12.8,-9.7],[10.2,-19.3],
  [11.0,-21.6],[9.6,-17.7],[7.0,-18.5],[5.0,-21.6],[1.5,-20.8],[2.9,-24.8],[-0.5,-28.0],[-0.5,-32.7],[1.5,-30.4],[6.4,-39.1],
  [3.2,-41.5],[12.2,-46.2],[11.6,-47.0],[12.8,-48.6],[12.5,-47.0],[15.1,-43.1],[15.9,-38.3],[16.2,-37.5],[15.7,-31.5],[13.9,-23.2],
  [15.7,-20.8],[16.5,-20.8],[17.4,-22.4],[18.0,-16.9],[18.6,-20.1],[19.1,-19.3],[18.8,-21.6],[20.0,-22.4],[21.2,-21.6],[21.7,-24.0],
  [22.3,-25.6],[23.2,-27.2],[23.8,-28.0],[22.6,-28.8],[21.2,-32.7],[21.4,-34.3],[22.6,-35.1],[22.9,-35.9],[18.6,-32.7],[19.7,-28.8],
  [20.6,-45.4],[22.6,-46.2],[13.9,-1.0],[14.5,6.1],[15.1,6.9],[15.4,8.5],[18.0,7.7],[17.4,6.9],[13.9,1.4],[14.5,-0.2],
  [15.7,-3.4],[16.8,-9.0],[18.6,-1.8],[20.0,-5.8],[20.3,-7.4],[21.7,-12.1],[22.6,-12.9],[23.5,-12.1],[24.1,-12.9],[21.4,-12.9],
  [22.0,7.7],[22.6,6.9],[23.2,6.1],[25.5,7.7],[26.4,8.5],[27.2,9.3],[28.7,9.3],[27.2,6.1],[29.5,0.6],[30.1,1.4],
  [30.7,0.6],[27.8,1.4],[28.1,-5.0],[27.5,-4.2],[28.7,-5.0],[23.8,-1.0],[23.8,-3.4],[24.3,-1.8],[24.9,-8.2],[28.1,-12.9],
  [28.4,-21.6],[28.1,-27.2],[31.3,-22.4],[32.7,-29.6],[33.0,-28.8],[35.3,-27.2],[34.2,-28.0],[35.0,-7.4],[35.6,-5.8],[36.5,-5.0],
  [38.2,-8.2],[38.5,-9.0],[39.1,-12.1],[37.6,-14.5],[37.4,-16.1],[37.9,-13.7],[37.6,-20.4],[32.4,-0.2],
  [0.3,23.6],[-0.5,18.8],[2.9,20.4],[3.5,16.4],[7.3,14.1],[5.5,10.9],[8.7,10.9],[10.5,9.3],[9.9,6.1],[8.4,6.1],
  [-0.5,15.6],[1.5,16.4],[3.5,9.3],[5.2,7.7],[-0.5,4.5],[1.5,1.4],[3.5,-1.8],[5.2,-6.6],[7.3,-7.4],[9.9,-8.2],
  [8.1,9.3],[10.7,12.5],[5.2,33.9],[8.7,36.3],[2.4,34.7],[-0.8,37.8]
]

const W = 2443
const H = 540
const cyan = '#00bfbf'
const purple = '#9400d3'
const tickFont = 27.5

const panels = [
  { name: panelNames[0], left: 97.7, right: 1157, top: 20, bottom: 472.5,
    xLim: bertXLim, yLim: bertYLim, xTicks: bertXTicks, yTicks: bertYTicks,
    dots: bertCyan, crosses: bertPurple },
  { name: panelNames[1], left: 1366, right: 2422.7, top: 20, bottom: 473,
    xLim: cdsXLim, yLim: cdsYLim, xTicks: cdsXTicks, yTicks: cdsYTicks,
    dots: cdsCyan, crosses: cdsPurple }
]

const svg = d3.select('#chart').append('svg')
  .attr('width', W)
  .attr('height', H)
  .attr('viewBox', `0 0 ${W} ${H}`)

svg.append('rect').attr('width', W).attr('height', H).attr('fill', '#fff')

const fmt = (d) => (d < 0 ? '\u2212' + Math.abs(d) : String(d))

panels.forEach((p) => {
  const w = p.right - p.left
  const h = p.bottom - p.top
  const x = d3.scaleLinear().domain(p.xLim).range([0, w])
  const y = d3.scaleLinear().domain(p.yLim).range([h, 0])

  const g = svg.append('g').attr('transform', `translate(${p.left},${p.top})`)

  // crosses first, dots drawn on top
  const a = 8.5
  g.append('g')
    .selectAll('path')
    .data(p.crosses)
    .enter().append('path')
    .attr('transform', (d) => `translate(${x(d[0])},${y(d[1])})`)
    .attr('d', `M${-a},${-a}L${a},${a}M${-a},${a}L${a},${-a}`)
    .attr('stroke', purple)
    .attr('stroke-width', 4.5)
    .attr('fill', 'none')

  g.append('g')
    .selectAll('circle')
    .data(p.dots)
    .enter().append('circle')
    .attr('cx', (d) => x(d[0]))
    .attr('cy', (d) => y(d[1]))
    .attr('r', 5.6)
    .attr('fill', cyan)

  const xAxis = g.append('g')
    .attr('transform', `translate(0,${h})`)
    .call(d3.axisBottom(x).tickValues(p.xTicks).tickFormat(fmt).tickSize(9.7).tickPadding(9.5).tickSizeOuter(0))
  const yAxis = g.append('g')
    .call(d3.axisLeft(y).tickValues(p.yTicks).tickFormat(fmt).tickSize(9.7).tickPadding(9.5).tickSizeOuter(0))

  ;[xAxis, yAxis].forEach((ax) => {
    ax.select('.domain').remove()
    ax.selectAll('line').attr('stroke', '#000').attr('stroke-width', 2.2)
    ax.selectAll('text')
      .attr('fill', '#000')
      .style('font-family', '"DejaVu Sans", sans-serif')
      .style('font-size', tickFont + 'px')
  })

  // frame
  g.append('rect')
    .attr('width', w)
    .attr('height', h)
    .attr('fill', 'none')
    .attr('stroke', '#000')
    .attr('stroke-width', 2.2)

  g.append('text')
    .attr('x', 10.7)
    .attr('y', 45.5)
    .style('font-size', '48px')
    .text(p.name)
})
</script>
</body>
</html>
